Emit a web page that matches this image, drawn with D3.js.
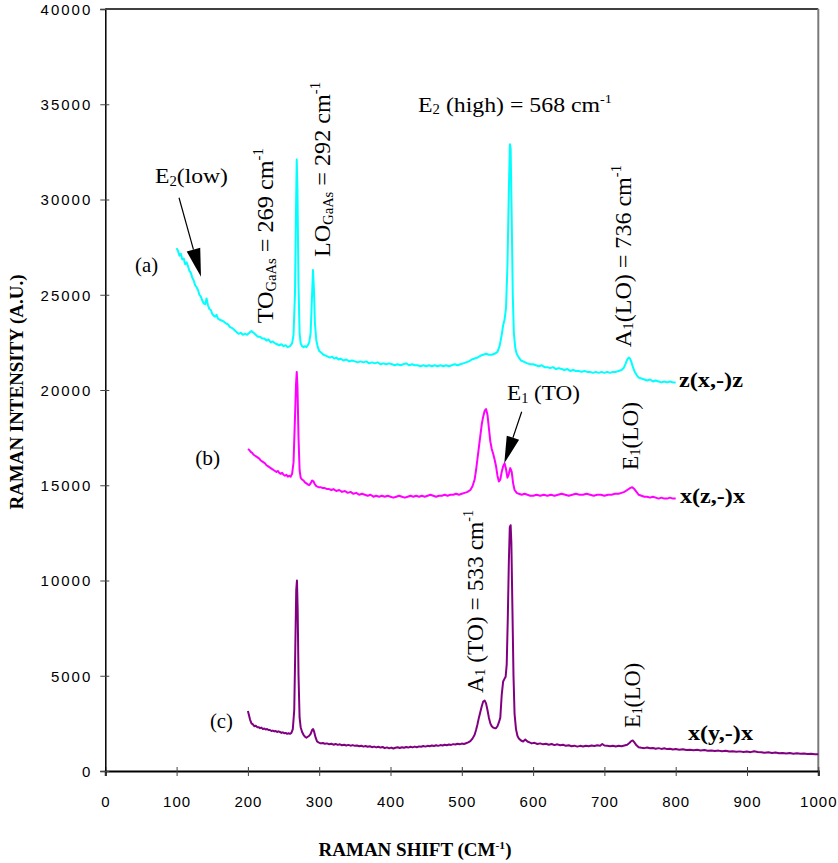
<!DOCTYPE html>
<html>
<head>
<meta charset="utf-8">
<script src="https://cdn.jsdelivr.net/npm/d3@7"></script>
<style>
  html, body { margin: 0; padding: 0; background: #ffffff; }
  svg { display: block; }
</style>
</head>
<body>
<script>
// ---------------- DATA ----------------
const xTicks = [0,100,200,300,400,500,600,700,800,900,1000];
const yTicks = [0,5000,10000,15000,20000,25000,30000,35000,40000];

// (a) z(x,-)z  [Raman shift (cm-1), intensity]
const seriesA = [[100,27450],[102,27300],[104,27050],[106,27150],[108,26850],[110,26900],[112,26600],[114,26700],[116,26500],[118,26250],[120,26150],[122,25900],[124,25750],[126,25500],[128,25400],[130,25250],[132,25000],[134,24900],[136,24700],[138,24550],[140,24500],[142,24800],[144,24450],[146,24250],[148,24200],[150,24000],[152,23900],[154,23850],[156,23950],[158,23750],[160,23700],[163,23650],[166,23600],[169,23500],[172,23450],[175,23300],[178,23250],[181,23150],[184,23050],[187,22950],[190,23000],[193,22900],[196,22950],[199,22900],[202,23000],[205,23100],[208,23000],[211,22900],[214,22800],[217,22800],[220,22700],[223,22700],[226,22600],[229,22650],[232,22500],[235,22550],[238,22450],[241,22400],[244,22350],[247,22400],[250,22300],[253,22350],[256,22250],[259,22300],[262,22450],[264,22900],[266,25000],[267.5,29500],[268.5,32100],[269.5,30500],[271,25500],[272.5,23000],[274,22450],[276,22300],[278,22250],[280,22300],[282,22250],[284,22350],[286,22500],[288,23000],[290,25000],[291.3,26300],[292.5,25400],[294,23500],[296,22600],[298,22250],[300,22050],[303,21950],[306,21850],[309,21800],[312,21750],[315,21700],[318,21750],[321,21650],[324,21700],[327,21600],[330,21650],[334,21550],[338,21600],[342,21500],[346,21550],[350,21500],[354,21450],[358,21500],[362,21450],[366,21500],[370,21400],[374,21450],[378,21400],[382,21450],[386,21350],[390,21400],[394,21350],[398,21400],[402,21350],[406,21300],[410,21350],[414,21300],[418,21350],[422,21400],[426,21300],[430,21350],[434,21300],[438,21300],[442,21250],[446,21300],[450,21250],[454,21300],[458,21250],[462,21300],[466,21250],[470,21300],[474,21250],[478,21300],[482,21250],[486,21300],[490,21350],[494,21300],[498,21350],[502,21400],[506,21450],[510,21500],[514,21600],[518,21650],[522,21700],[526,21800],[530,21850],[534,21900],[538,21850],[542,21850],[546,21900],[550,22000],[553,22300],[556,22900],[558,23400],[560,23700],[562,24300],[564,26500],[566,30500],[567.5,32900],[568.5,32700],[570,29000],[571.5,25000],[573,23000],[575,22200],[577,21900],[580,21700],[583,21550],[586,21500],[589,21450],[592,21400],[596,21350],[600,21350],[604,21300],[608,21250],[612,21300],[616,21200],[620,21200],[624,21150],[628,21200],[632,21100],[636,21150],[640,21100],[644,21050],[648,21100],[652,21000],[656,21050],[660,21000],[664,21000],[668,20950],[672,21000],[676,20950],[680,20950],[684,20900],[688,20950],[692,20900],[696,20950],[700,20900],[704,20950],[708,20900],[712,20950],[716,20950],[720,21000],[724,21050],[727,21150],[730,21400],[732,21600],[734,21700],[736,21650],[738,21450],[740,21200],[742,21000],[745,20800],[748,20650],[752,20600],[756,20550],[760,20500],[764,20550],[768,20450],[772,20500],[776,20450],[780,20400],[784,20450],[788,20400],[792,20450],[796,20400],[800,20400]];

// (b) x(z,-)x
const seriesB = [[200,16900],[202,16850],[204,16750],[206,16700],[208,16600],[210,16550],[212,16500],[214,16450],[216,16400],[218,16300],[220,16250],[222,16200],[224,16150],[226,16050],[228,16000],[230,15950],[232,15900],[234,15850],[236,15800],[238,15750],[240,15700],[242,15750],[244,15650],[246,15600],[248,15650],[250,15550],[252,15500],[254,15550],[256,15450],[258,15500],[260,15450],[262,15600],[264,16200],[266,18500],[267.5,20300],[268.5,20950],[269.5,20200],[271,17500],[272.5,15800],[274,15400],[276,15300],[278,15250],[280,15150],[282,15100],[284,15050],[286,15000],[288,15100],[290,15250],[292,15200],[294,15050],[296,14950],[299,14900],[302,14900],[305,14850],[308,14850],[311,14800],[314,14800],[317,14750],[320,14800],[324,14700],[328,14750],[332,14650],[336,14700],[340,14600],[344,14650],[348,14550],[352,14600],[356,14500],[360,14550],[364,14500],[368,14450],[372,14500],[376,14400],[380,14450],[384,14400],[388,14450],[392,14400],[396,14450],[400,14400],[404,14350],[408,14400],[412,14450],[416,14400],[420,14350],[424,14400],[428,14450],[432,14400],[436,14450],[440,14400],[444,14450],[448,14400],[452,14450],[456,14500],[460,14450],[464,14400],[468,14450],[472,14450],[476,14500],[480,14450],[484,14500],[488,14500],[492,14550],[496,14500],[500,14550],[504,14600],[508,14650],[512,14750],[515,14950],[518,15300],[520,15800],[522,16400],[524,17000],[526,17600],[528,18200],[530,18600],[532,18900],[534,19000],[536,18700],[538,18000],[540,17300],[542,16900],[544,16650],[546,16350],[548,16000],[550,15500],[552,15200],[554,15300],[556,15700],[558,16000],[560,16150],[562,15850],[564,15400],[566,15600],[568,15900],[570,15700],[572,15100],[574,14750],[577,14600],[580,14550],[584,14500],[588,14550],[592,14500],[596,14450],[600,14450],[605,14500],[610,14450],[615,14500],[620,14450],[625,14500],[630,14450],[635,14500],[640,14550],[645,14500],[650,14450],[655,14500],[660,14550],[665,14500],[670,14500],[675,14550],[680,14500],[685,14450],[690,14500],[695,14500],[700,14450],[705,14500],[710,14500],[715,14550],[720,14550],[724,14600],[728,14650],[732,14750],[736,14850],[739,14900],[742,14800],[745,14650],[748,14500],[752,14450],[756,14400],[760,14400],[764,14350],[768,14400],[772,14350],[776,14300],[780,14350],[784,14300],[788,14300],[792,14350],[796,14300],[800,14300]];

// (c) x(y,-)x
const seriesC = [[200,3150],[201,3000],[203,2700],[205,2500],[207,2450],[209,2350],[211,2380],[213,2300],[215,2300],[217,2250],[219,2280],[221,2200],[223,2230],[225,2180],[227,2200],[229,2150],[231,2150],[233,2100],[235,2120],[237,2080],[239,2100],[241,2050],[243,2080],[245,2050],[247,2000],[249,2030],[251,1980],[253,2000],[255,1950],[257,1980],[259,1950],[261,2000],[263,2200],[265,3200],[266.5,6500],[267.8,9500],[268.8,10000],[269.8,8500],[271,5000],[272.5,2800],[274,2300],[276,2050],[278,1900],[280,1800],[282,1750],[284,1800],[286,1850],[288,1950],[290,2150],[291.5,2200],[293,2050],[295,1750],[297,1550],[299,1500],[302,1450],[305,1470],[308,1430],[311,1450],[314,1400],[317,1430],[320,1380],[323,1420],[326,1370],[329,1400],[332,1350],[335,1380],[338,1340],[341,1370],[344,1330],[347,1360],[350,1320],[353,1340],[356,1300],[359,1330],[362,1280],[365,1310],[368,1270],[371,1300],[374,1250],[377,1280],[380,1240],[383,1270],[386,1230],[389,1260],[392,1200],[395,1240],[398,1190],[401,1230],[404,1180],[407,1220],[410,1250],[413,1210],[416,1250],[419,1220],[422,1260],[425,1230],[428,1270],[431,1240],[434,1280],[437,1250],[440,1290],[443,1270],[446,1310],[449,1280],[452,1320],[455,1300],[458,1340],[461,1310],[464,1350],[467,1320],[470,1360],[473,1340],[476,1380],[479,1350],[482,1390],[485,1370],[488,1410],[491,1390],[494,1430],[497,1400],[500,1440],[503,1420],[506,1460],[509,1500],[512,1570],[515,1700],[518,1900],[520,2150],[522,2450],[524,2800],[526,3100],[528,3400],[530,3650],[532,3700],[534,3550],[536,3200],[538,2800],[540,2500],[542,2350],[544,2280],[546,2250],[548,2250],[550,2350],[552,2550],[554,2800],[556,4000],[558,4700],[560,4850],[561.5,4950],[563,5600],[564.5,8000],[566,11000],[567.3,12800],[568.5,12900],[569.5,12000],[571,8500],[572.5,5000],[574,3000],[576,2200],[578,1850],[580,1700],[583,1600],[586,1550],[589,1650],[592,1550],[595,1500],[598,1450],[602,1480],[606,1420],[610,1450],[614,1400],[618,1430],[622,1380],[626,1420],[630,1360],[634,1400],[638,1350],[642,1380],[646,1320],[650,1350],[654,1300],[658,1330],[662,1280],[666,1320],[670,1290],[674,1330],[678,1300],[682,1340],[686,1310],[690,1350],[694,1330],[697,1420],[700,1340],[704,1320],[708,1300],[712,1330],[716,1290],[720,1320],[724,1300],[728,1340],[732,1380],[735,1470],[738,1580],[740,1600],[742,1500],[745,1350],[748,1250],[752,1220],[756,1200],[760,1230],[764,1190],[768,1210],[772,1170],[776,1200],[780,1160],[784,1190],[788,1150],[792,1170],[796,1130],[800,1150],[805,1120],[810,1140],[815,1100],[820,1120],[825,1090],[830,1110],[835,1080],[840,1100],[845,1060],[850,1080],[855,1050],[860,1070],[865,1040],[870,1060],[875,1020],[880,1040],[885,1010],[890,1030],[895,1000],[900,1020],[905,990],[910,1040],[915,1000],[920,980],[925,960],[930,980],[935,950],[940,970],[945,930],[950,950],[955,920],[960,940],[965,910],[970,930],[975,900],[980,920],[985,890],[990,910],[995,880],[1000,880]];

const seriesColors = ["#00ffff", "#ff00ff", "#800080"];

// ---------------- CHART ----------------
const W = 838, H = 863;
const svg = d3.select("body").append("svg").attr("width", W).attr("height", H);

const x = d3.scaleLinear().domain([0, 1000]).range([105.3, 818.3]);
const y = d3.scaleLinear().domain([0, 40000]).range([771, 9]);

// top and right frame
svg.append("line").attr("x1", x(0)).attr("x2", x(1000)).attr("y1", y(40000)).attr("y2", y(40000))
  .attr("stroke", "#000").attr("stroke-width", 1.5);
svg.append("line").attr("x1", x(1000)).attr("x2", x(1000)).attr("y1", y(40000)).attr("y2", y(0))
  .attr("stroke", "#7a7a7a").attr("stroke-width", 2);

// axes
const gx = svg.append("g").attr("transform", `translate(0,${y(0)})`)
  .call(d3.axisBottom(x).tickValues(xTicks).tickSizeOuter(0).tickSize(5).tickFormat(d => d));
gx.select(".domain").attr("stroke", "#000").attr("stroke-width", 2);
gx.selectAll(".tick line").attr("y1", -4).attr("y2", 5).attr("stroke", "#444").attr("stroke-width", 1);
gx.selectAll(".tick text").attr("y", 36).attr("dy", "0")
  .attr("font-family", "'Liberation Sans', Arial, sans-serif").attr("font-size", 15)
  .attr("letter-spacing", "1px").attr("fill", "#000");

const gy = svg.append("g").attr("transform", `translate(${x(0)},0)`)
  .call(d3.axisLeft(y).tickValues(yTicks).tickSizeOuter(0).tickSize(5).tickFormat(d => d));
gy.select(".domain").attr("stroke", "#000").attr("stroke-width", 1.5);
gy.selectAll(".tick line").attr("x1", -5).attr("x2", 4).attr("stroke", "#444").attr("stroke-width", 1);
gy.selectAll(".tick text").attr("x", -13).attr("dy", "0.36em")
  .attr("font-family", "'Liberation Sans', Arial, sans-serif").attr("font-size", 15)
  .attr("letter-spacing", "2px").attr("fill", "#000");

// axis titles
svg.append("text").attr("x", 415).attr("y", 856).attr("text-anchor", "middle")
  .attr("font-family", "'Liberation Serif', 'Times New Roman', serif").attr("font-weight", "bold")
  .attr("font-size", 18).attr("textLength", 193).attr("lengthAdjust", "spacingAndGlyphs")
  .call(t => {
    t.append("tspan").text("RAMAN SHIFT (CM");
    t.append("tspan").text("-1").attr("font-size", 11).attr("dy", -7);
    t.append("tspan").text(")").attr("dy", 7);
  });
svg.append("text").attr("transform", "translate(23,392) rotate(-90)").attr("text-anchor", "middle")
  .attr("font-family", "'Liberation Serif', 'Times New Roman', serif").attr("font-weight", "bold")
  .attr("font-size", 18).attr("textLength", 235).attr("lengthAdjust", "spacingAndGlyphs")
  .text("RAMAN INTENSITY (A.U.)");

// curves
const line = d3.line().x(d => x(d[0])).y(d => y(d[1]));
[seriesA, seriesB, seriesC].forEach((s, i) => {
  svg.append("path").datum(s).attr("d", line).attr("fill", "none")
    .attr("stroke", seriesColors[i]).attr("stroke-width", 2).attr("stroke-linejoin", "round");
});

// ---------------- ANNOTATIONS ----------------
// parts: [text, kind] kind: "", "sub", "sup", "small"
function rich(parts, opts) {
  const size = opts.size;
  const t = svg.append("text")
    .attr("font-family", "'Liberation Serif', 'Times New Roman', serif")
    .attr("font-size", size).attr("fill", "#000")
    .attr("font-weight", opts.bold ? "bold" : "normal");
  if (opts.rotate) {
    t.attr("transform", `translate(${x(opts.x)},${y(opts.y)}) rotate(-90)`);
  } else {
    t.attr("x", x(opts.x)).attr("y", y(opts.y));
  }
  if (opts.len) t.attr("textLength", opts.len).attr("lengthAdjust", "spacingAndGlyphs");
  let shift = 0;
  parts.forEach(([s, kind]) => {
    let target = 0, fs = size;
    if (kind === "sub") { target = size * 0.1; fs = size * 0.62; }
    if (kind === "small") { target = size * 0.12; fs = size * 0.6; }
    if (kind === "sup") { target = -size * 0.42; fs = size * 0.6; }
    const sp = t.append("tspan").text(s).attr("font-size", fs);
    if (target !== shift) { sp.attr("dy", target - shift); shift = target; }
  });
  return t;
}

const labelsH = [
  { parts: [["E",""],["2","sub"],["(low)",""]], x: 69.7, y: 30850, len: 73 },
  { parts: [["(a)",""]], x: 41.7, y: 26200, len: 23 },
  { parts: [["(b)",""]], x: 126.1, y: 16050, len: 25 },
  { parts: [["(c)",""]], x: 146.8, y: 2250, len: 23 },
  { parts: [["E",""],["2","sub"],[" (high) = 568 cm",""],["-1","sup"]], x: 438.6, y: 34600, len: 194 },
  { parts: [["E",""],["1","sub"],[" (TO)",""]], x: 563.4, y: 19450, len: 73 },
  { parts: [["z(x,-)z",""]], x: 804.6, y: 20150, len: 64, bold: true },
  { parts: [["x(z,-)x",""]], x: 806.0, y: 14050, len: 65, bold: true },
  { parts: [["x(y,-)x",""]], x: 817.2, y: 1620, len: 65, bold: true }
];
labelsH.forEach(l => rich(l.parts, { size: 22, x: l.x, y: l.y, len: l.len, bold: l.bold }));

const labelsV = [
  { parts: [["TO",""],["GaAs","small"],[" = 269 cm",""],["-1","sup"]], x: 235.2, y: 23500, len: 175 },
  { parts: [["LO",""],["GaAs","small"],[" = 292 cm",""],["-1","sup"]], x: 315.2, y: 26980, len: 175 },
  { parts: [["A",""],["1","sub"],["(LO) = 736 cm",""],["-1","sup"]], x: 736.9, y: 22250, len: 182 },
  { parts: [["E",""],["1","sub"],["(LO)",""]], x: 747.1, y: 15800, len: 68 },
  { parts: [["A",""],["1","sub"],[" (TO) = 533 cm",""],["-1","sup"]], x: 529.7, y: 4100, len: 183 },
  { parts: [["E",""],["1","sub"],["(LO)",""]], x: 749.9, y: 2260, len: 65 }
];
labelsV.forEach(l => rich(l.parts, { size: 24, x: l.x, y: l.y, len: l.len, rotate: true }));

// arrows (start and tip in data coordinates)
const arrows = [
  { from: [103.4, 30090], to: [134.2, 25950], head: 28, half: 7 },
  { from: [584.0, 18860], to: [559.6, 16150], head: 27, half: 6.5 }
];
arrows.forEach(a => {
  const x1 = x(a.from[0]), y1 = y(a.from[1]), x2 = x(a.to[0]), y2 = y(a.to[1]);
  const dx = x2 - x1, dy = y2 - y1, L = Math.hypot(dx, dy);
  const ux = dx / L, uy = dy / L;
  const bx = x2 - ux * a.head, by = y2 - uy * a.head;
  svg.append("line").attr("x1", x1).attr("y1", y1).attr("x2", bx).attr("y2", by)
    .attr("stroke", "#000").attr("stroke-width", 1.2);
  svg.append("path")
    .attr("d", `M${x2},${y2}L${bx - uy * a.half},${by + ux * a.half}L${bx + uy * a.half},${by - ux * a.half}Z`)
    .attr("fill", "#000");
});
</script>
</body>
</html>
